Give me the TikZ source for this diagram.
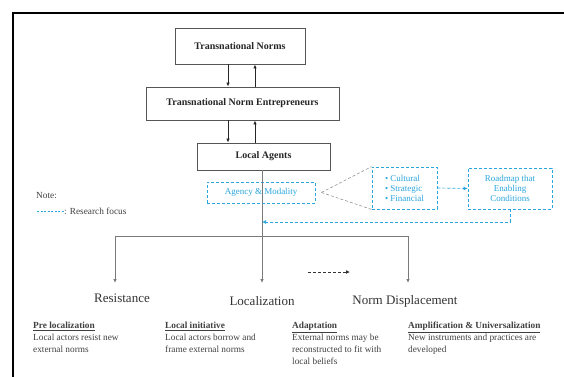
\documentclass[tikz,border=0pt]{standalone}
\usepackage{fontspec}
\setmainfont{Liberation Serif}
\usetikzlibrary{arrows.meta}
\definecolor{focus}{HTML}{2AA6DE}
\definecolor{boxline}{HTML}{555555}
\definecolor{conn}{HTML}{7A7A7A}
\tikzset{
  mainbox/.style={draw=boxline, line width=0.9pt, fill=white, font=\bfseries\fontsize{10}{12}\selectfont, text=black!85, inner sep=0pt},
  focusbox/.style={draw=focus, dashed, line width=0.8pt, dash pattern=on 3pt off 2pt, text=focus, inner sep=0pt, font=\fontsize{9}{11}\selectfont},
  arr/.style={-{Latex[length=4pt,width=3.5pt]}, line width=0.8pt, black!85},
  garr/.style={-{Latex[length=4pt,width=3.5pt]}, line width=0.9pt, conn},
  gline/.style={line width=0.9pt, conn},
  farr/.style={focus, dashed, dash pattern=on 3pt off 2pt, line width=0.7pt, -{Latex[length=4pt,width=4pt]}},
  outcome/.style={font=\fontsize{13}{15}\selectfont, text=black!80},
  desc/.style={anchor=north west, align=left, font=\fontsize{9.3}{12}\selectfont, text=black!75, inner sep=0pt}
}
\begin{document}
\begin{tikzpicture}[x=1pt,y=-1pt]
\useasboundingbox (0,0) rectangle (564,376);
\fill[white] (0,0) rectangle (564,376);
\draw[line width=2pt, black] (13,13) rectangle (580,390);

\coordinate (xa) at (228,0);
\coordinate (xb) at (255,0);

\node[mainbox, minimum width=130pt, minimum height=36pt] (TN) at (240,46) {Transnational Norms};
\node[mainbox, minimum width=193pt, minimum height=33pt] (TNE) at (242.5,103.5) {Transnational Norm Entrepreneurs};
\node[mainbox, minimum width=133pt, minimum height=27pt] (LA) at (263.5,156.5) {Local Agents};

\draw[arr] (TN.south -| xa) -- (TNE.north -| xa);
\draw[arr] (TNE.north -| xb) -- (TN.south -| xb);
\draw[arr] (TNE.south -| xa) -- (LA.north -| xa);
\draw[arr] (LA.north -| xb) -- (TNE.south -| xb);

\coordinate (xc) at (262,0);
\coordinate (jn) at (262,236);
\coordinate (jl) at (115,236);
\coordinate (jr) at (408,236);

\node[outcome] (RES) at (122,298) {Resistance};
\node[outcome] (LOC) at (262,301) {Localization};
\node[outcome] (ND) at (405,301) {Norm Displacement};
\coordinate (LOCt) at (262,283);
\coordinate (RESt) at (115,283);
\coordinate (NDt) at (408,283);

\draw[gline] (LA.south -| xc) -- (jn);
\draw[garr] (jn) -- (LOCt);
\draw[gline] (jl) -- (jr);
\draw[garr] (jl) -- (RESt);
\draw[garr] (jr) -- (NDt);

\node[focusbox, fill=white, minimum width=108pt, minimum height=21pt] (AM) at (261,192.5) {Agency \& Modality};
\draw[gline] (AM.north -| xc) -- (AM.south -| xc);

\node[focusbox, minimum width=65pt, minimum height=42pt, align=left] (CF) at (404.5,188) {• Cultural\\[-1pt]• Strategic\\[-1pt]• Financial};
\node[focusbox, minimum width=84pt, minimum height=41pt, align=center] (RM) at (510,188.5) {Roadmap that\\[-1pt]Enabling\\[-1pt]Conditions};

\draw[conn!80, dashed, dash pattern=on 3pt off 2pt, line width=0.6pt] ([xshift=6pt]AM.east) -- (CF.north west);
\draw[conn!80, dashed, dash pattern=on 3pt off 2pt, line width=0.6pt] ([xshift=6pt]AM.east) -- (CF.south west);
\draw[farr] (CF.east) -- (RM.west);
\coordinate (fb) at (510,222);
\draw[farr] (RM.south) -- (fb) -- (fb -| xc);

\draw[black!80, dashed, dash pattern=on 3pt off 2pt, line width=0.8pt, -{Latex[length=4pt,width=4pt]}] (308,272) coordinate (da) -- (350,272) coordinate (db);

\node[anchor=west, inner sep=0pt, font=\fontsize{9.3}{11}\selectfont, text=black!75] (note) at (36,196) {Note:};
\coordinate (nl1) at (37,211);
\coordinate (nl2) at (64,211);
\draw[focus, dashed, dash pattern=on 2pt off 1.5pt, line width=0.6pt] (nl1) -- (nl2);
\node[anchor=west, inner sep=0pt, font=\fontsize{9.3}{11}\selectfont, text=black!75] (rf) at (nl2) {: Research focus};

\node[desc] (d1) at (33,322) {\textbf{\underline{Pre localization}}\\Local actors resist new\\external norms};
\node[desc] (d2) at (165,322) {\textbf{\underline{Local initiative}}\\Local actors borrow and\\frame external norms};
\node[desc] (d3) at (292,322) {\textbf{\underline{Adaptation}}\\External norms may be\\reconstructed to fit with\\local beliefs};
\node[desc] (d4) at (408,322) {\textbf{\underline{Amplification \& Universalization}}\\New instruments and practices are\\developed};
\end{tikzpicture}
\end{document}
